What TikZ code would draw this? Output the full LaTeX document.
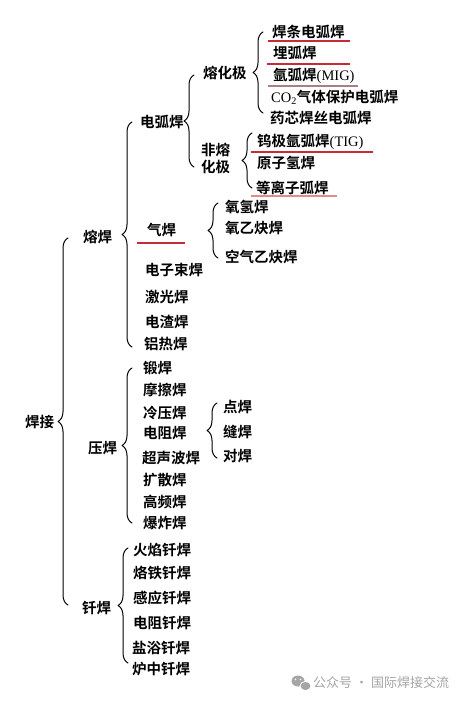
\documentclass[tikz,border=0pt]{standalone}
\usepackage{fontspec}
\setmainfont{Liberation Serif}
\newfontfamily\cjk{Noto Sans CJK SC}[BoldFont={Noto Sans CJK SC Bold}]
\newfontfamily\latin{Liberation Serif}
\usetikzlibrary{decorations.pathreplacing}
\definecolor{lnred}{RGB}{196,44,58}
\definecolor{lngray}{RGB}{168,128,132}
\definecolor{lnpink}{RGB}{222,140,140}
\definecolor{wmgray}{RGB}{165,165,165}
\tikzset{
  lbl/.style={font=\cjk\bfseries\fontsize{14.5}{17}\selectfont,inner sep=0pt,anchor=west},
  brc/.style={decorate,decoration={brace,amplitude=10pt},line width=1pt},
  uline/.style={line width=1.4pt,line cap=butt}
}
\begin{document}
\begin{tikzpicture}[line cap=round,line join=round,x=1pt,y=1pt]
\useasboundingbox (0,0) rectangle (462,-701);
\fill[white] (0,0) rectangle (462,-701);
\node[lbl] (hanjie) at (25,-422) {焊接};
\node[lbl] (ronghan) at (83,-237) {熔焊};
\node[lbl] (yahan) at (88,-448) {压焊};
\node[lbl] (qianhan) at (82,-608) {钎焊};
\draw[brc] (68,-605) -- (68,-238);
\node[lbl] (dianhu) at (140,-122) {电弧焊};
\node[lbl] (qihan) at (147,-230) {气焊};
\node[lbl] (dianzi) at (145,-270) {电子束焊};
\node[lbl] (jiguang) at (145,-297) {激光焊};
\node[lbl] (dianzha) at (145,-322) {电渣焊};
\node[lbl] (lvre) at (144,-344) {铝热焊};
\draw[brc] (132,-347) -- (132,-122);
\node[lbl] (ronghuaji) at (203,-73) {熔化极};
\node[lbl,align=left] (feirong) at (201,-158) {非熔\\化极};
\draw[brc] (194,-167) -- (194,-75);
\node[lbl] (hantiao) at (272,-32) {焊条电弧焊};
\node[lbl] (maihu) at (273,-53) {埋弧焊};
\node[lbl] (mig) at (273,-76) {氩弧焊{\latin\mdseries (MIG)}};
\node[lbl] (co2) at (271,-97) {{\latin\mdseries CO\textsubscript{2}}气体保护电弧焊};
\node[lbl] (yaoxin) at (270,-118) {药芯焊丝电弧焊};
\draw[brc] (263,-113) -- (263,-32);
\node[lbl] (tig) at (257,-142) {钨极氩弧焊{\latin\mdseries (TIG)}};
\node[lbl] (yuanzi) at (257,-163) {原子氢焊};
\node[lbl] (dengli) at (256,-188) {等离子弧焊};
\draw[brc] (252,-188) -- (252,-133);
\node[lbl] (yangqing) at (225,-207) {氧氢焊};
\node[lbl] (yangyi) at (225,-228) {氧乙炔焊};
\node[lbl] (kongqi) at (225,-257) {空气乙炔焊};
\draw[brc] (218,-258) -- (218,-203);
\draw[uline,lnred] (268,-41) -- (350,-41);
\draw[uline,lnred] (267,-64) -- (350,-64);
\draw[uline,lngray] (268,-86) -- (358,-86);
\draw[uline,lnred] (251,-152) -- (373,-152);
\draw[uline,lnpink] (251,-196) -- (337,-196);
\draw[uline,lnred] (137,-243) -- (185,-243);
\node[lbl] (duan) at (143,-368) {锻焊};
\node[lbl] (moca) at (143,-390) {摩擦焊};
\node[lbl] (lengya) at (143,-413) {冷压焊};
\node[lbl] (dianzu) at (143,-433) {电阻焊};
\node[lbl] (chaosheng) at (142,-458) {超声波焊};
\node[lbl] (kuosan) at (143,-480) {扩散焊};
\node[lbl] (gaopin) at (143,-502) {高频焊};
\node[lbl] (baozha) at (143,-523) {爆炸焊};
\draw[brc] (132,-523) -- (132,-368);
\node[lbl] (dian) at (223,-407) {点焊};
\node[lbl] (feng) at (223,-432) {缝焊};
\node[lbl] (dui) at (223,-456) {对焊};
\draw[brc] (217,-458) -- (217,-403);
\node[lbl] (huoyan) at (133,-550) {火焰钎焊};
\node[lbl] (laotie) at (133,-573) {烙铁钎焊};
\node[lbl] (ganying) at (133,-598) {感应钎焊};
\node[lbl] (dianzuqian) at (133,-623) {电阻钎焊};
\node[lbl] (yanyu) at (132,-648) {盐浴钎焊};
\node[lbl] (luzhong) at (132,-669) {炉中钎焊};
\draw[brc] (128,-663) -- (128,-548);
\fill[wmgray] (298,-681) ellipse (6.5 and 5.5);
\fill[wmgray,draw=white,line width=0.8pt] (305.5,-686) ellipse (5.5 and 4.6);
\fill[white] (295.5,-679.5) circle (0.9) (300.5,-679.5) circle (0.9);
\node[anchor=west,inner sep=0pt,text=wmgray,font=\cjk\fontsize{13}{15}\selectfont] (mark) at (313,-683) {公众号 · 国际焊接交流};
\end{tikzpicture}
\end{document}
